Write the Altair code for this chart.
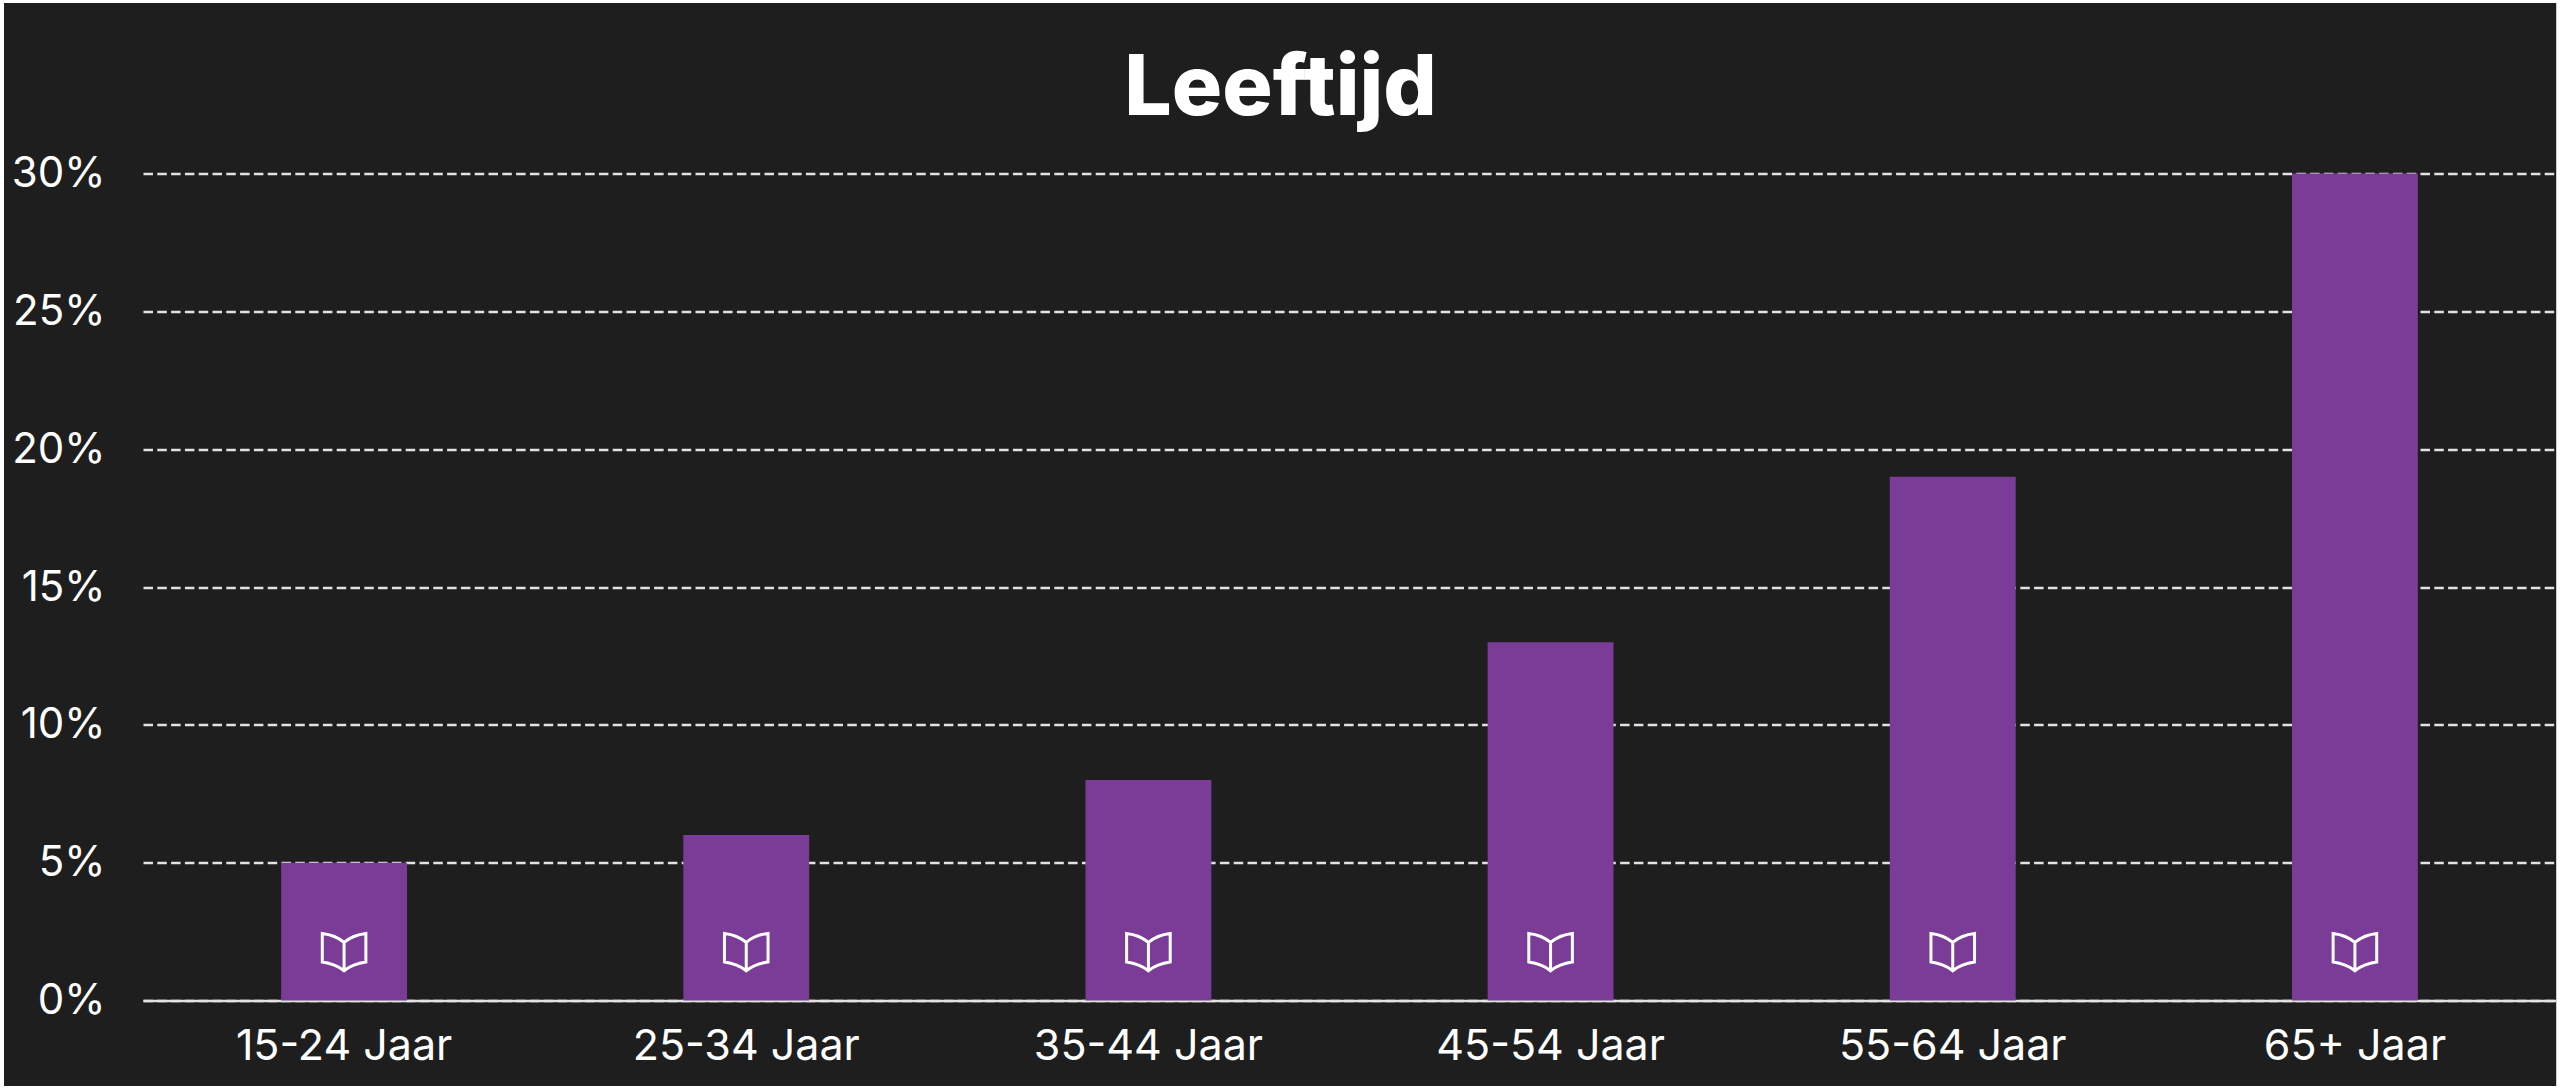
import altair as alt
import pandas as pd

categories = ["15-24 Jaar", "25-34 Jaar", "35-44 Jaar", "45-54 Jaar", "55-64 Jaar", "65+ Jaar"]
values = [5, 6, 8, 13, 19, 30]
icon_level = [1.76, 1.76, 1.76, 1.76, 1.76, 1.76]
y_ticks = [0, 5, 10, 15, 20, 25, 30]

BG = "#1E1E1E"
PURPLE = "#7A3C96"
LINE = "#E2E2E2"
FONT = "Inter"
BOOK = ("M0,-0.44 Q-0.4,-0.78 -1,-0.85 L-1,0.46 Q-0.4,0.54 0,0.86 "
        "Q0.4,0.54 1,0.46 L1,-0.85 Q0.4,-0.78 0,-0.44 Z M0,-0.44 L0,0.86")

df = pd.DataFrame({"cat": categories, "val": values, "icon": icon_level})

x = alt.X("cat:N", sort=categories, title=None,
          scale=alt.Scale(paddingInner=0.687, paddingOuter=0.3435),
          axis=alt.Axis(labelAngle=0, labelFont=FONT, labelFontSize=43, labelColor="white", labelLimit=400,
                        labelPadding=25, ticks=False, domainColor=LINE, domainWidth=2.5, grid=False))
y = alt.Y("val:Q", title=None,
          scale=alt.Scale(domain=[0, 30], nice=False),
          axis=alt.Axis(values=y_ticks, labelExpr="datum.value + '%'", labelFont=FONT, labelFontSize=42,
                        labelColor="white", labelPadding=38, ticks=False, domain=False,
                        grid=True, gridColor=LINE, gridWidth=2.5, gridDash=[9.5, 4.3]))

bars = alt.Chart(df).mark_bar(color=PURPLE).encode(x=x, y=y)
icons = alt.Chart(df).mark_point(shape=BOOK, size=1900, filled=False, stroke="white",
                                 strokeWidth=3, opacity=1).encode(
    x=alt.X("cat:N", sort=categories), y=alt.Y("icon:Q"))

chart = (bars + icons).properties(
    width=2413, height=827,
    background=BG,
    autosize=alt.AutoSizeParams(type="none"),
    padding={"left": 139, "top": 170.5, "right": 0, "bottom": 85.5},
    title=alt.TitleParams("Leeftijd", font=FONT, fontSize=84, fontWeight=800, color="white",
                          anchor="middle", dx=-69, offset=20),
).configure_view(stroke=None)

chart.save("out.html", embed_options={
    "renderer": "svg", "actions": False,
    "defaultStyle": "body{margin:3px 0 0 4px !important} svg.marks{outline:1px solid #cfcfcf}",
})
